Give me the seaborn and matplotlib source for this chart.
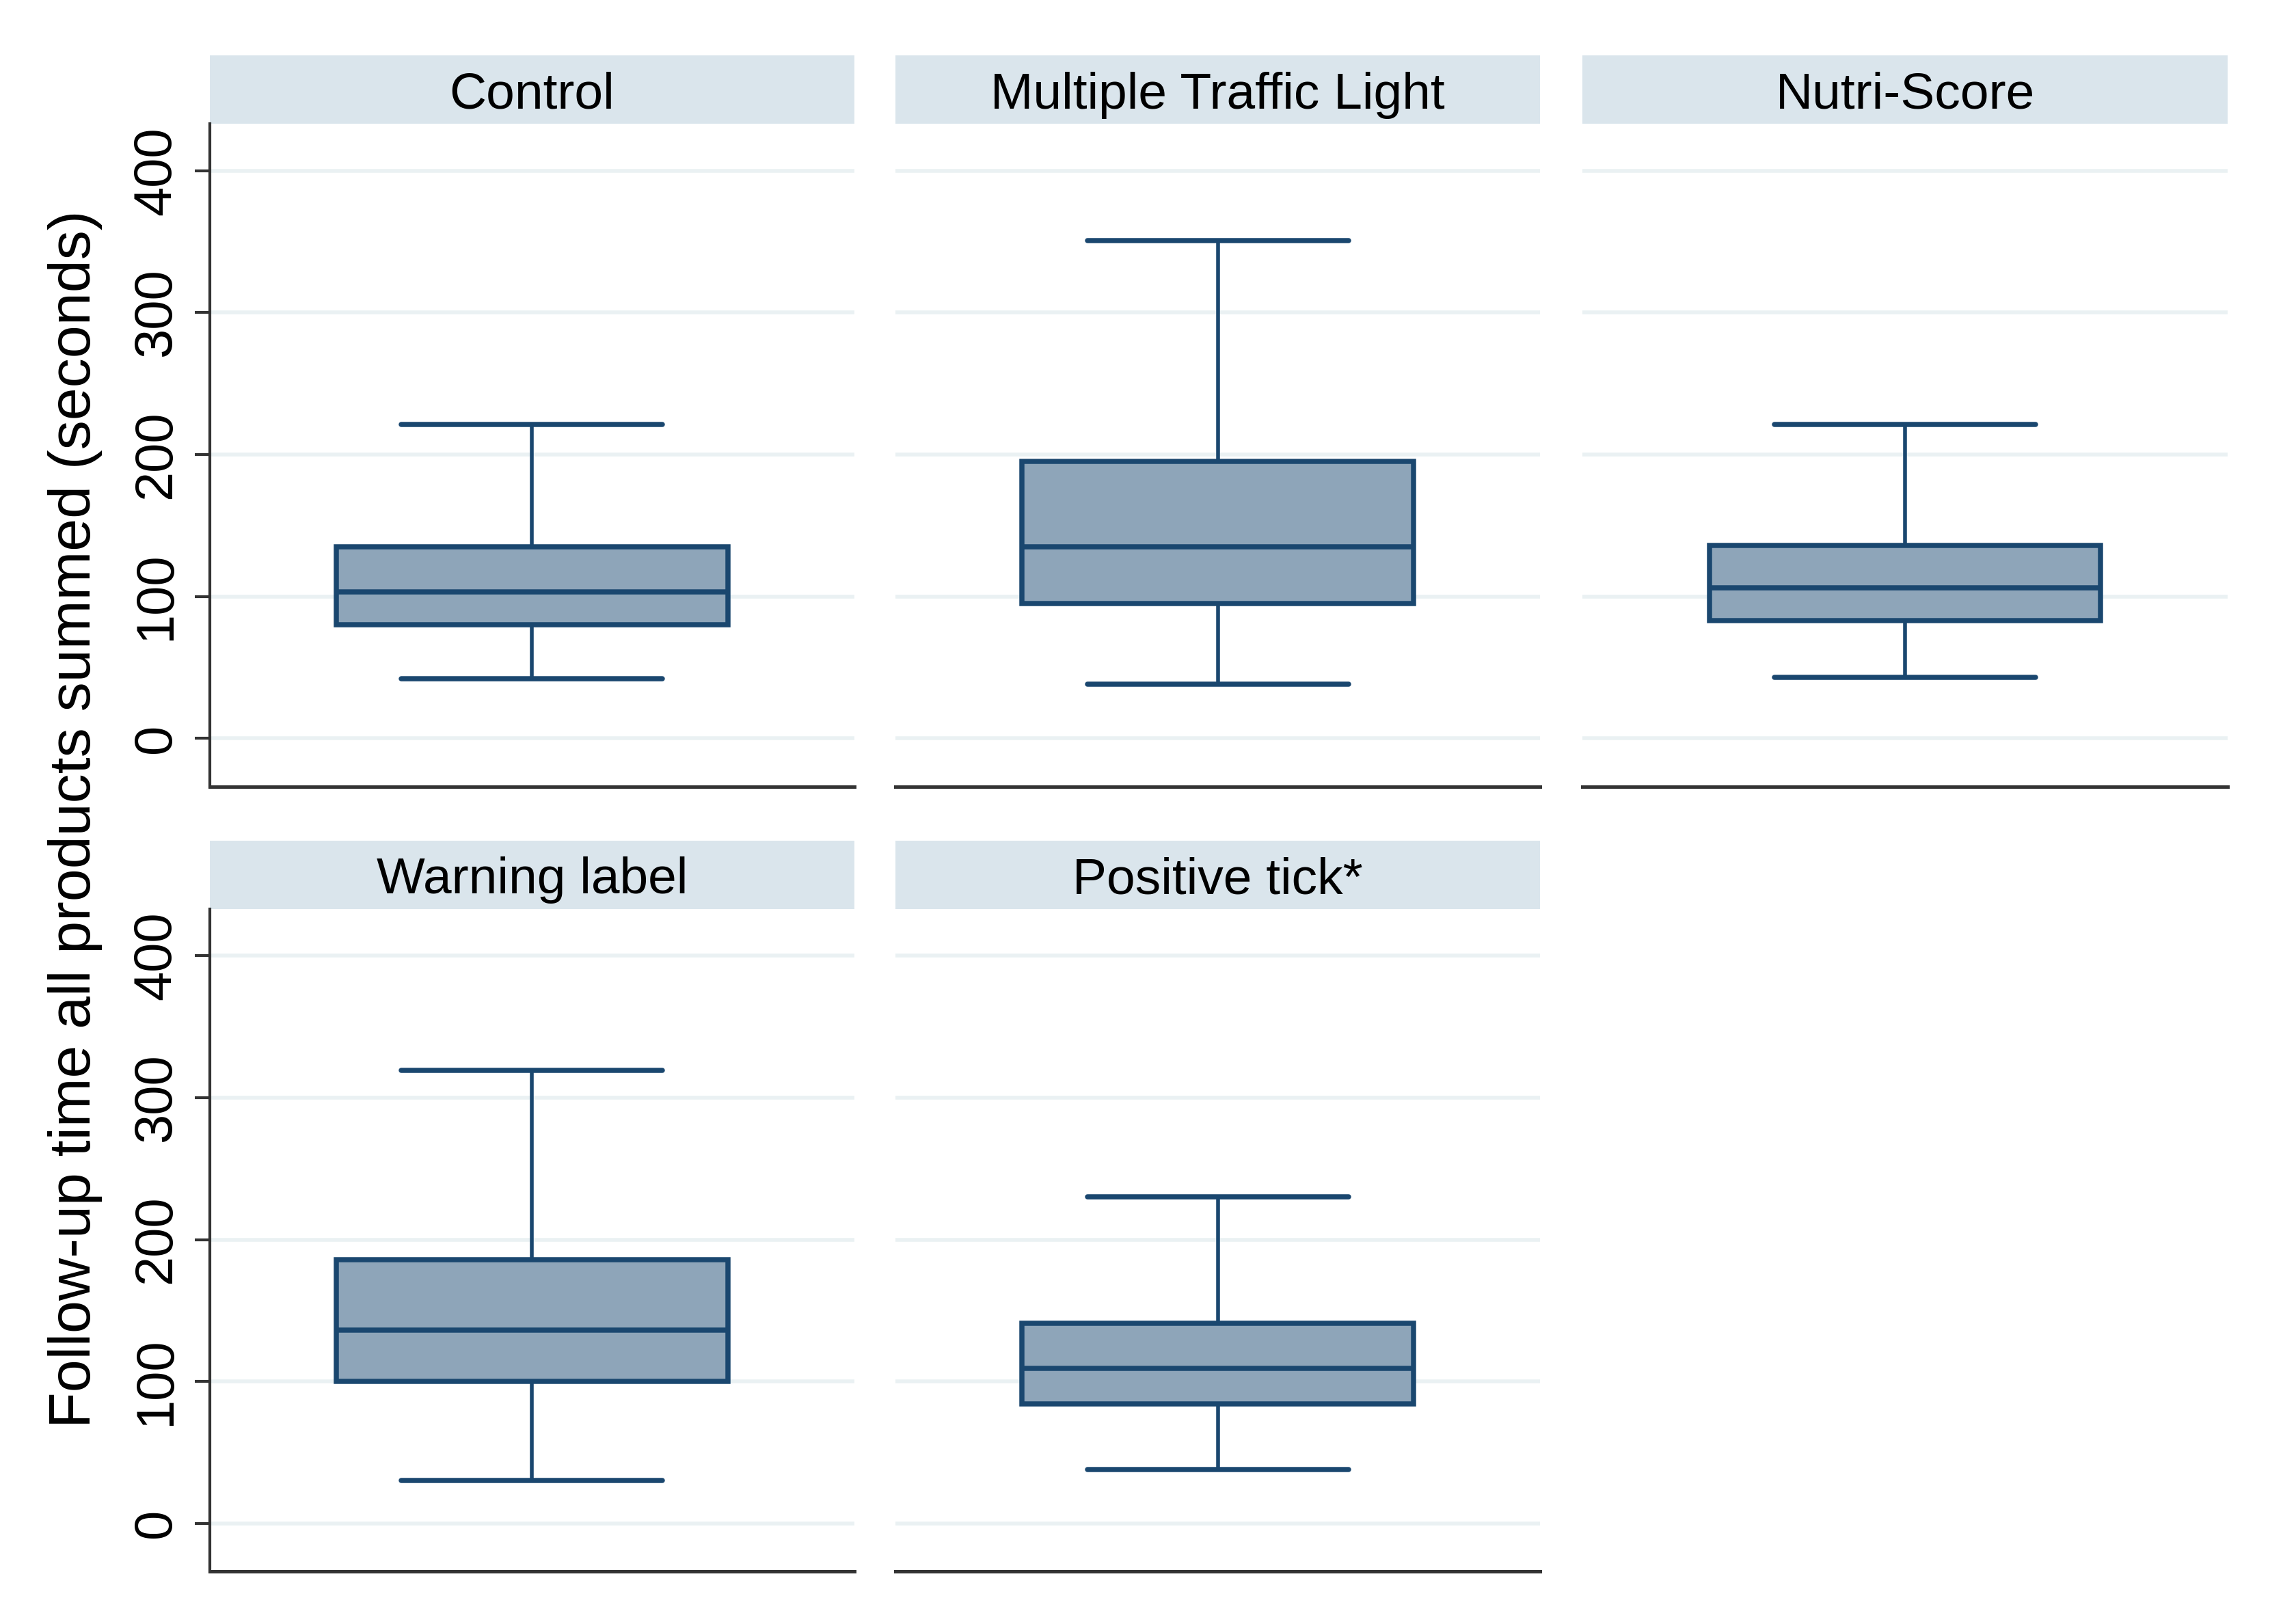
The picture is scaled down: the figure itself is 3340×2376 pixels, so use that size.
import pandas as pd
import matplotlib.pyplot as plt
import seaborn as sns
from matplotlib.patches import Rectangle

# Estilo general
sns.set_theme(style="white")
plt.rcParams['font.family'] = ['Liberation Sans', 'DejaVu Sans']

# Datos (resumen de cinco números por grupo)
grupos = ['Control', 'Multiple Traffic Light', 'Nutri-Score', 'Warning label', 'Positive tick*']
bigote_inf = [42, 38, 43, 30, 38]
q1 = [80, 95, 83, 100, 84]
mediana = [103, 135, 106, 136, 109]
q3 = [135, 195, 136, 186, 141]
bigote_sup = [221, 351, 221, 319, 230]

y_ticks = [0, 100, 200, 300, 400]
y_label = 'Follow-up time all products summed (seconds)'

filas = []
for g, a, b, c, d, e in zip(grupos, bigote_inf, q1, mediana, q3, bigote_sup):
    for v in (a, b, c, d, e):
        filas.append({'grupo': g, 'segundos': v})
df = pd.DataFrame(filas)

color_caja = '#8ea5b9'
color_borde = '#1a476f'
color_tira = '#dae5ec'
color_grid = '#eaf1f3'

fig = plt.figure(figsize=(16.7, 11.88), dpi=200)

lefts = [0.0918, 0.3922, 0.6932]
bottoms = [0.5157, 0.0323]
ancho, alto = 0.2825, 0.408
tira_h = 0.0422 / alto

for i, g in enumerate(grupos):
    fila, col = divmod(i, 3)
    ax = fig.add_axes([lefts[col], bottoms[fila], ancho, alto])
    sub = df[df['grupo'] == g]
    sns.boxplot(data=sub, y='segundos', ax=ax, whis=(0, 100), width=0.607,
                color=color_caja, saturation=1, linecolor=color_borde,
                capwidths=0.405,
                boxprops=dict(linewidth=2.7, edgecolor=color_borde, facecolor=color_caja),
                medianprops=dict(linewidth=2.7, color=color_borde),
                whiskerprops=dict(linewidth=2.0, color=color_borde),
                capprops=dict(linewidth=2.7, color=color_borde),
                showfliers=False)
    ax.set_xlim(-0.5, 0.5)
    ax.set_ylim(-34, 433)
    ax.set_yticks(y_ticks)
    ax.set_xticks([])
    ax.set_xlabel('')
    ax.set_ylabel('')
    ax.yaxis.grid(True, color=color_grid, linewidth=2)
    ax.set_axisbelow(True)
    for s in ['top', 'right']:
        ax.spines[s].set_visible(False)
    ax.spines['bottom'].set_color('#333333')
    ax.spines['bottom'].set_linewidth(1.8)
    if col == 0:
        ax.spines['left'].set_color('#333333')
        ax.spines['left'].set_linewidth(1.5)
        ax.tick_params(axis='y', left=True, length=8, width=1.5, color='#333333',
                       labelsize=28, labelrotation=90, pad=7, labelcolor='black')
        for t in ax.get_yticklabels():
            t.set_va('center')
    else:
        ax.spines['left'].set_visible(False)
        ax.tick_params(axis='y', left=False, labelleft=False)

    # Tira del título del panel
    ax.add_patch(Rectangle((0, 1), 1, tira_h, transform=ax.transAxes,
                           facecolor=color_tira, edgecolor='none', clip_on=False))
    ax.text(0.5, 1 + tira_h * 0.42, g, transform=ax.transAxes, ha='center',
            va='center', fontsize=27, color='black')

fig.text(0.033, 0.4955, y_label, rotation=90, ha='center', va='center',
         fontsize=31, color='black')

fig.savefig('out.png', dpi=200, facecolor='white')
